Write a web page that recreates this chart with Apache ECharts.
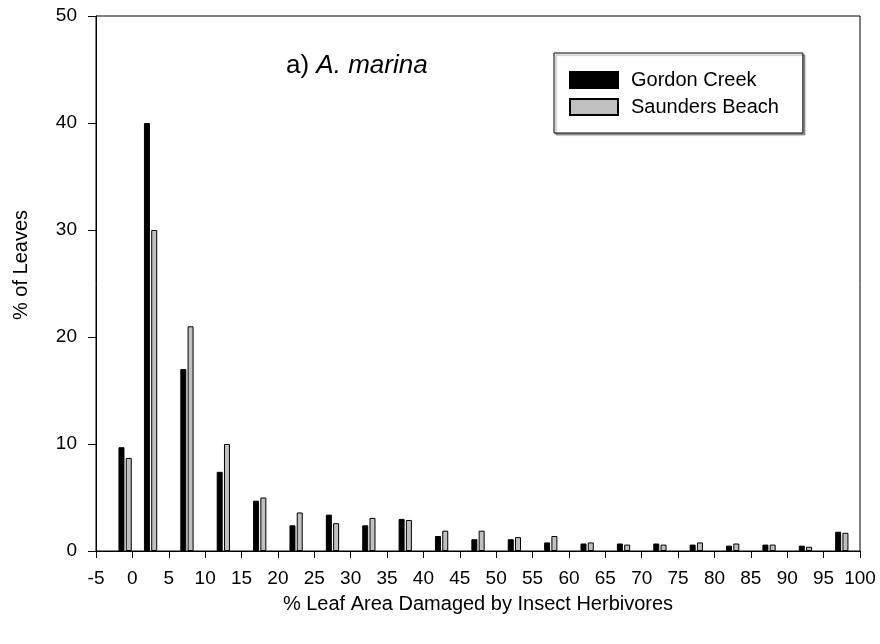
<!DOCTYPE html>
<html>
<head>
<meta charset="utf-8">
<script src="https://cdn.jsdelivr.net/npm/echarts@6/dist/echarts.min.js"></script>
<style>
  html, body { margin: 0; padding: 0; background: #fff; }
  #chart { width: 880px; height: 644px; }
</style>
</head>
<body>
<div id="chart"></div>
<script>
// Damage classes (% leaf area), plotted at the centre of each class
const binCenters = [-1, 2.5, 7.5, 12.5, 17.5, 22.5, 27.5, 32.5, 37.5, 42.5, 47.5,
                    52.5, 57.5, 62.5, 67.5, 72.5, 77.5, 82.5, 87.5, 92.5, 97.5];
// % of leaves in each class
const gordonCreek = [9.7, 40.0, 17.0, 7.4, 4.7, 2.4, 3.4, 2.4, 3.0, 1.4, 1.1,
                     1.1, 0.8, 0.7, 0.7, 0.7, 0.6, 0.5, 0.6, 0.5, 1.8];
const saundersBeach = [8.7, 30.0, 21.0, 10.0, 5.0, 3.6, 2.6, 3.1, 2.9, 1.9, 1.9,
                       1.3, 1.4, 0.8, 0.6, 0.6, 0.8, 0.7, 0.6, 0.4, 1.7];
const xTicks = { min: -5, max: 100, step: 5 };
const yTicks = { min: 0, max: 50, step: 10 };

const FONT = '"Liberation Sans", Arial, Helvetica, sans-serif';
const HALF_SHIFT = 0.5; // the two sites sit side by side within a class

const chart = echarts.init(document.getElementById('chart'), null, { renderer: 'canvas' });

chart.setOption({
  animation: false,
  backgroundColor: '#ffffff',
  textStyle: { fontFamily: FONT, color: '#000' },
  grid: {
    left: 96, right: 20, top: 16, bottom: 93,
    show: true, borderColor: '#000', borderWidth: 1, backgroundColor: 'transparent'
  },
  legend: {
    left: 554, top: 53,
    orient: 'vertical',
    icon: 'rect',
    itemWidth: 48, itemHeight: 16, itemGap: 7,
    padding: [17, 24, 16, 15],
    borderColor: '#000', borderWidth: 1,
    backgroundColor: '#fff',
    shadowColor: 'rgba(0,0,0,0.35)', shadowOffsetX: 2, shadowOffsetY: 2, shadowBlur: 1,
    textStyle: { fontFamily: FONT, fontSize: 20, color: '#000', padding: [0, 0, 0, 8] },
    data: ['Gordon Creek', 'Saunders Beach']
  },
  xAxis: {
    type: 'value',
    min: xTicks.min, max: xTicks.max, interval: xTicks.step,
    name: '% Leaf Area Damaged by Insect Herbivores',
    nameLocation: 'middle', nameGap: 43,
    nameTextStyle: { fontFamily: FONT, fontSize: 20, color: '#000' },
    axisLine: { show: true, onZero: false, lineStyle: { color: '#000', width: 1 } },
    axisTick: { show: true, inside: false, length: 7, lineStyle: { color: '#000' } },
    axisLabel: { fontFamily: FONT, fontSize: 19, color: '#000', margin: 18 },
    splitLine: { show: false }
  },
  yAxis: {
    type: 'value',
    min: yTicks.min, max: yTicks.max, interval: yTicks.step,
    axisLine: { show: true, onZero: false, lineStyle: { color: '#000', width: 1 } },
    axisTick: { show: true, inside: false, length: 8, lineStyle: { color: '#000' } },
    axisLabel: { fontFamily: FONT, fontSize: 19, color: '#000', margin: 19 },
    splitLine: { show: false }
  },
  graphic: [
    {
      type: 'text', left: 286, top: 53, silent: true,
      style: {
        text: '{n|a) }{i|A. marina}',
        rich: {
          n: { fontFamily: FONT, fontSize: 26, fill: '#000' },
          i: { fontFamily: FONT, fontSize: 26, fontStyle: 'italic', fill: '#000' }
        }
      }
    },
    {
      type: 'text', x: 21, y: 265, rotation: Math.PI / 2, silent: true,
      style: {
        text: '% of Leaves', fontFamily: FONT, fontSize: 20, fill: '#000',
        align: 'center', verticalAlign: 'middle'
      }
    }
  ],
  series: [
    {
      name: 'Gordon Creek', type: 'bar',
      barWidth: 6, barGap: '-100%',
      itemStyle: { color: '#000', borderColor: '#000', borderWidth: 1 },
      data: binCenters.map((c, i) => [c - HALF_SHIFT, gordonCreek[i]])
    },
    {
      name: 'Saunders Beach', type: 'bar',
      barWidth: 6, barGap: '-100%',
      itemStyle: { color: '#c0c0c0', borderColor: '#000', borderWidth: 1 },
      data: binCenters.map((c, i) => [c + HALF_SHIFT, saundersBeach[i]])
    }
  ]
});
</script>
</body>
</html>
